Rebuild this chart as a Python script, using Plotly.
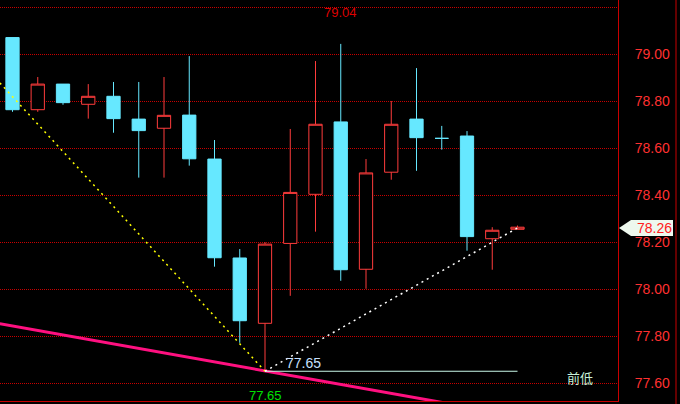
import plotly.graph_objects as go

# ---- data ----
idx = list(range(21))
opens  = [79.07, 78.763, 78.872, 78.786, 78.820, 78.723, 78.684, 78.740, 78.553, 78.132,
          77.854, 78.194, 78.403, 78.711, 78.084, 78.497, 78.723, 78.641, 78.651, 78.214, 78.254]
highs  = [79.07, 78.902, 78.872, 78.872, 78.881, 78.881, 78.902, 78.991, 78.634, 78.170,
          78.199, 78.681, 78.970, 79.043, 78.553, 78.800, 78.940, 78.694, 78.672, 78.263, 78.270]
lows   = [78.754, 78.754, 78.784, 78.725, 78.665, 78.474, 78.474, 78.525, 78.095, 77.771,
          77.650, 77.971, 78.244, 78.035, 78.001, 78.465, 78.503, 78.593, 78.163, 78.082, 78.254]
closes = [78.763, 78.872, 78.793, 78.820, 78.725, 78.674, 78.739, 78.554, 78.133, 77.865,
          78.191, 78.411, 78.701, 78.082, 78.494, 78.701, 78.644, 78.641, 78.223, 78.250, 78.263]

tick_vals = [77.60, 77.80, 78.00, 78.20, 78.40, 78.60, 78.80, 79.00, 79.20]
tick_text = ["77.60", "77.80", "78.00", "78.20", "78.40", "78.60", "78.80", "79.00", "79.20"]

yellow_x = [-0.5, 10]
yellow_y = [78.877, 77.65]
white_x = [10, 20]
white_y = [77.65, 78.26]
pink_x = [-0.5, 17.5]
pink_y = [77.852, 77.508]
prev_low_x = [10, 20]
prev_low_y = [77.65, 77.65]

high_label = "79.04"
low_label = "77.65"
last_price = 78.26
last_label = "78.26"
prev_low_text = "前低"

RED_GRID = "#c80000"
CYAN = "#66e8ff"
RED = "#ff3c3c"

fig = go.Figure()

fig.add_trace(go.Scatter(x=pink_x, y=pink_y, mode="lines",
                         line=dict(color="#ff1080", width=3), hoverinfo="skip"))
fig.add_trace(go.Scatter(x=prev_low_x, y=prev_low_y, mode="lines",
                         line=dict(color="#c8f8e8", width=1), hoverinfo="skip"))
fig.add_trace(go.Scatter(x=yellow_x, y=yellow_y, mode="lines",
                         line=dict(color="#ffff00", width=1.5, dash="2px,4px"), hoverinfo="skip"))
fig.add_trace(go.Scatter(x=white_x, y=white_y, mode="lines",
                         line=dict(color="#ffffff", width=1.5, dash="2px,4px"), hoverinfo="skip"))

fig.add_trace(go.Candlestick(
    x=idx, open=opens, high=highs, low=lows, close=closes,
    increasing=dict(line=dict(color=RED, width=1), fillcolor="#000000"),
    decreasing=dict(line=dict(color=CYAN, width=1), fillcolor=CYAN),
    whiskerwidth=0,
))

fig.update_layout(
    width=680, height=404,
    paper_bgcolor="#000000", plot_bgcolor="#000000",
    margin=dict(l=0, r=62, t=0, b=3),
    showlegend=False,
    boxgap=0.25,
    font=dict(family="Liberation Sans, Arial, sans-serif"),
    xaxis=dict(range=[-0.495, 23.98], showgrid=False, zeroline=False,
               showticklabels=False, rangeslider=dict(visible=False),
               showline=True, linecolor=RED_GRID, linewidth=1, mirror=False),
    yaxis=dict(range=[77.5234, 79.2298], side="right", tickvals=tick_vals, ticktext=tick_text,
               showgrid=True, gridcolor=RED_GRID, griddash="1px,1px", gridwidth=1,
               zeroline=False, showline=True, linecolor=RED_GRID, linewidth=1,
               tickfont=dict(color="#ff3030", size=14), ticks="", ticklabelstandoff=13),
)

# second vertical border at right
fig.add_shape(type="line", xref="paper", yref="paper", x0=676/618, x1=676/618, y0=-0.01, y1=1.01,
              line=dict(color=RED_GRID, width=1))

# price tag
h = 8 / 235
fig.add_shape(type="path", xref="paper", yref="y",
              path=f"M {619/618} {last_price} L {631/618} {last_price+h} L {673/618} {last_price+h} "
                   f"L {673/618} {last_price-h} L {631/618} {last_price-h} Z",
              fillcolor="#eef8ee", line=dict(width=0))
fig.add_annotation(x=654.5/618, y=last_price, xref="paper", yref="y", text=last_label,
                   showarrow=False, font=dict(color="#ff2020", size=14), xanchor="center", yanchor="middle")

fig.add_annotation(x=13, y=79.20 - 5/235, text=high_label, showarrow=False,
                   font=dict(color="#dd0000", size=13), xanchor="center", yanchor="middle")
fig.add_annotation(x=10, y=79.20 - 388/235, text=low_label, showarrow=False,
                   font=dict(color="#00e000", size=13), xanchor="center", yanchor="middle")
fig.add_annotation(x=(303.5 - 12.5) / 25.25, y=79.20 - 356/235, text=low_label, showarrow=False,
                   font=dict(color="#c8e0ff", size=14), xanchor="center", yanchor="middle")
fig.add_annotation(x=(580 - 12.5) / 25.25, y=79.20 - 370/235, text=prev_low_text, showarrow=False,
                   font=dict(color="#c8f0d8", size=13, family="Noto Sans CJK SC"),
                   xanchor="center", yanchor="middle")

fig.write_html("out.html", config={"displayModeBar": False},
               post_script="document.body.style.margin='0';document.body.style.overflow='hidden';")
